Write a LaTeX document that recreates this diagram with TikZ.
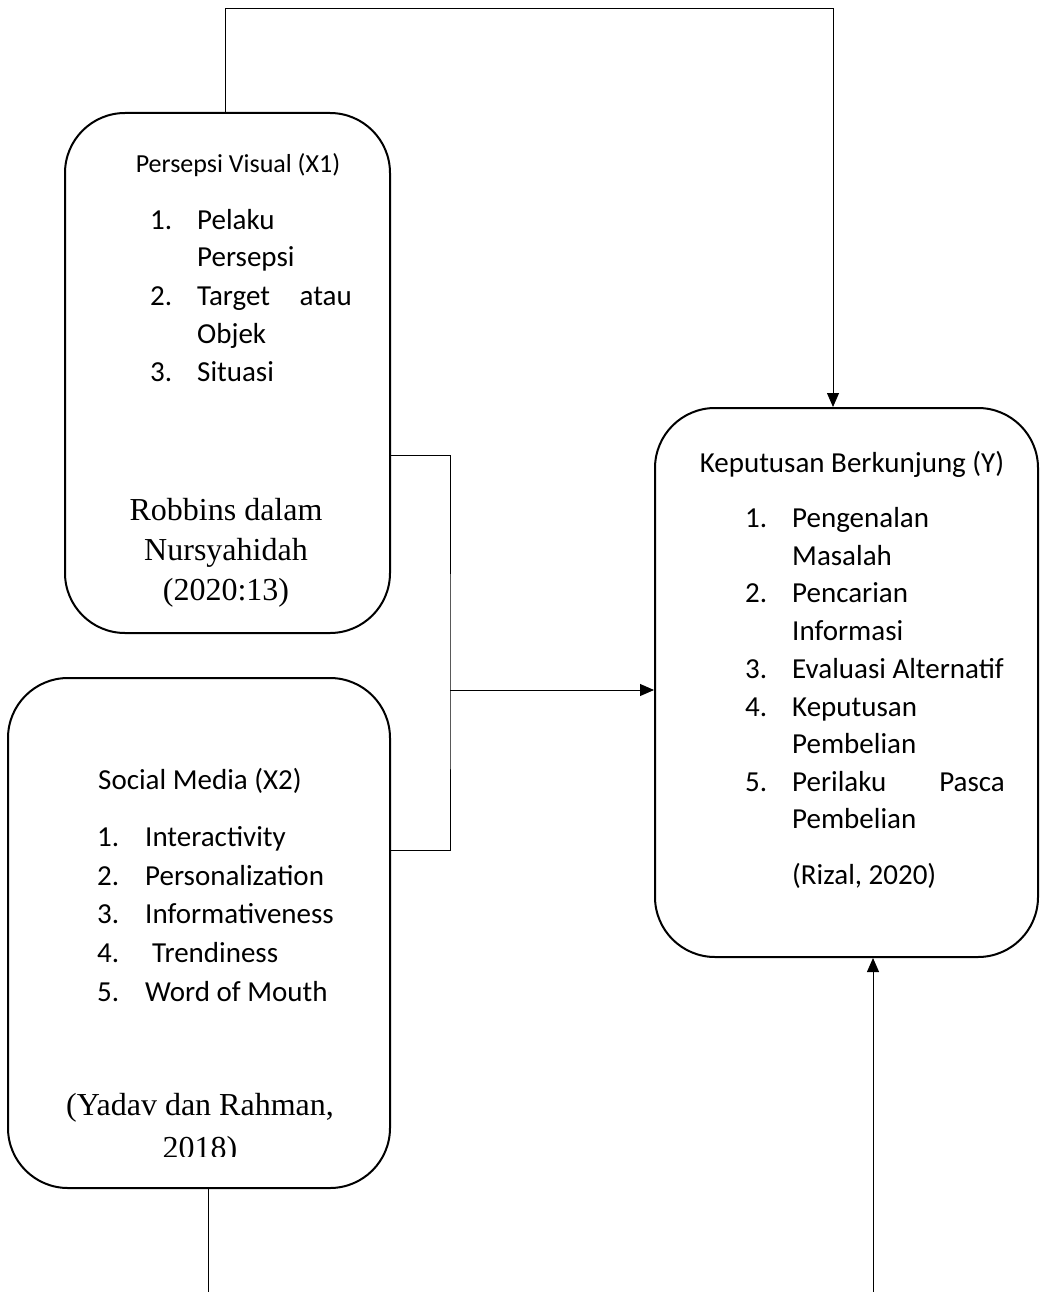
\documentclass[tikz,border=0pt]{standalone}
\usepackage{fontspec}
\setmainfont{Liberation Serif}
\newfontfamily\calibri{Carlito}
\usetikzlibrary{arrows.meta}
\begin{document}
\begin{tikzpicture}[x=1pt,y=-1pt,
        box/.style={draw,line width=2pt,rounded corners=60pt,inner sep=0pt},
        conn/.style={line width=0.9pt},
        arr/.style={line width=0.9pt,-{Triangle[length=14pt,width=12pt]}},
        txa/.style={inner sep=0pt,anchor=base west,font=\calibri\fontsize{26}{30}\selectfont},
        txb/.style={inner sep=0pt,anchor=base west,font=\calibri\fontsize{29}{34}\selectfont},
        cite/.style={inner sep=0pt,anchor=base,font=\fontsize{32}{38}\selectfont}]
        \useasboundingbox (0,0) rectangle (1041,1292);

        % boxes
        \node[box,minimum width=325pt,minimum height=520pt] (pv) at (227.5,373) {};
        \node[box,minimum width=382pt,minimum height=510pt] (sm) at (199,933) {};
        \node[box,minimum width=383pt,minimum height=549pt] (kb) at (846.5,682.5) {};

        % Persepsi Visual
        \node[txa,anchor=base] (pvt) at (238,172) {Persepsi Visual (X1)};
        \node[txb] (pvn1) at (150,229) {1.};
        \node[txb] (pvi1) at (197,229) {Pelaku};
        \node[txb] (pvi1b) at (197,266) {Persepsi};
        \node[txb] (pvn2) at (150,305) {2.};
        \node[txb] (pvi2) at (197,305) {Target};
        \node[txb,anchor=base east] (pvi2c) at (352,305) {atau};
        \node[txb] (pvi2b) at (197,343) {Objek};
        \node[txb] (pvn3) at (150,381) {3.};
        \node[txb] (pvi3) at (197,381) {Situasi};
        \node[cite] (pvc1) at (226,520) {Robbins dalam};
        \node[cite] (pvc2) at (226,560) {Nursyahidah};
        \node[cite] (pvc3) at (226,600) {(2020:13)};

        % Social Media
        \node[txb,anchor=base] (smt) at (200,789) {Social Media (X2)};
        \node[txb] (smn1) at (97,846) {1.};
        \node[txb] (smi1) at (145,846) {Interactivity};
        \node[txb] (smn2) at (97,885) {2.};
        \node[txb] (smi2) at (145,885) {Personalization};
        \node[txb] (smn3) at (97,923) {3.};
        \node[txb] (smi3) at (145,923) {Informativeness};
        \node[txb] (smn4) at (97,962) {4.};
        \node[txb] (smi4) at (152,962) {Trendiness};
        \node[txb] (smn5) at (97,1001) {5.};
        \node[txb] (smi5) at (145,1001) {Word of Mouth};
        \node[cite] (smc1) at (200,1115) {(Yadav dan Rahman,};
        \begin{scope}
            \clip (0,0) rectangle (1041,1156);
            \node[cite] (smc2) at (200,1158) {2018)};
        \end{scope}

        % Keputusan Berkunjung
        \node[txb,anchor=base] (kbt) at (852,472) {Keputusan Berkunjung (Y)};
        \node[txb] (kbn1) at (745,527) {1.};
        \node[txb] (kbi1) at (792,527) {Pengenalan};
        \node[txb] (kbi1b) at (792,565) {Masalah};
        \node[txb] (kbn2) at (745,602) {2.};
        \node[txb] (kbi2) at (792,602) {Pencarian};
        \node[txb] (kbi2b) at (792,640) {Informasi};
        \node[txb] (kbn3) at (745,678) {3.};
        \node[txb] (kbi3) at (792,678) {Evaluasi Alternatif};
        \node[txb] (kbn4) at (745,716) {4.};
        \node[txb] (kbi4) at (792,716) {Keputusan};
        \node[txb] (kbi4b) at (792,753) {Pembelian};
        \node[txb] (kbn5) at (745,791) {5.};
        \node[txb] (kbi5) at (792,791) {Perilaku};
        \node[txb,anchor=base east] (kbi5c) at (1005,791) {Pasca};
        \node[txb] (kbi5b) at (792,828) {Pembelian};
        \node[txb] (kbc) at (792,884) {(Rizal, 2020)};

        % connectors
        \coordinate (tl) at (225,8);
        \coordinate (tr) at (833,8);
        \draw[arr] (pv.north -| tl) -- (tl) -- (tr) -- (kb.north -| tr);

        \coordinate (jn) at (450,690);
        \draw[conn] (pv.east |- 0,455) -| (jn) |- (sm.east |- 0,850);
        \draw[arr] (jn) -- (kb.west |- jn);

        \coordinate (bl) at (208,1292);
        \draw[conn] (sm.south -| bl) -- (bl);
        \coordinate (br) at (873,1292);
        \draw[arr] (br) -- (kb.south -| br);
    \end{tikzpicture}
\end{document}
